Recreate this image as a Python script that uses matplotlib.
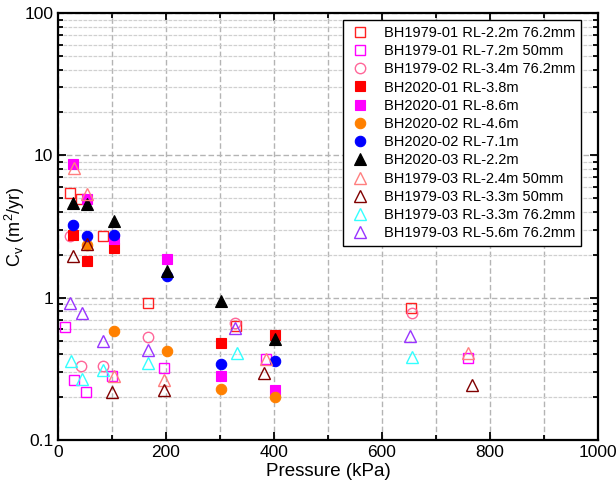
import matplotlib
matplotlib.use("Agg")
import matplotlib.pyplot as plt
from matplotlib.ticker import FixedLocator, MultipleLocator, FuncFormatter, LogLocator, NullFormatter

plt.rcParams['font.family'] = ['Liberation Sans', 'DejaVu Sans']

labels = [
    "BH1979-01 RL-2.2m 76.2mm",
    "BH1979-01 RL-7.2m 50mm",
    "BH1979-02 RL-3.4m 76.2mm",
    "BH2020-01 RL-3.8m",
    "BH2020-01 RL-8.6m",
    "BH2020-02 RL-4.6m",
    "BH2020-02 RL-7.1m",
    "BH2020-03 RL-2.2m",
    "BH1979-03 RL-2.4m 50mm",
    "BH1979-03 RL-3.3m 50mm",
    "BH1979-03 RL-3.3m 76.2mm",
    "BH1979-03 RL-5.6m 76.2mm",
]

p01_22 = [23, 42, 84, 166, 329, 653]
c01_22 = [5.4, 4.9, 2.7, 0.92, 0.63, 0.85]
p01_72 = [13, 29, 52, 100, 197, 385, 760]
c01_72 = [0.62, 0.266, 0.217, 0.283, 0.32, 0.37, 0.377]
p02_34 = [22, 43, 84, 166, 328, 655]
c02_34 = [2.73, 0.33, 0.33, 0.53, 0.66, 0.78]
p20_01a = [27, 53, 103, 302, 401]
c20_01a = [2.74, 1.80, 2.23, 0.48, 0.55]
p20_01b = [27, 53, 103, 202, 302, 401]
c20_01b = [8.7, 4.94, 2.58, 1.88, 0.28, 0.225]
p20_02a = [53, 103, 202, 302, 401]
c20_02a = [2.36, 0.586, 0.42, 0.23, 0.202]
p20_02b = [27, 53, 103, 202, 302, 401]
c20_02b = [3.26, 2.73, 2.74, 1.43, 0.34, 0.36]
p20_03 = [27, 53, 103, 202, 302, 401]
c20_03 = [4.63, 4.58, 3.44, 1.55, 0.94, 0.51]
p03_24 = [30, 53, 103, 197, 385, 760]
c03_24 = [8.15, 5.35, 0.28, 0.266, 0.37, 0.41]
p03_33a = [28, 53, 100, 197, 382, 766]
c03_33a = [1.97, 2.4, 0.217, 0.225, 0.296, 0.245]
p03_33b = [24, 44, 84, 166, 332, 655]
c03_33b = [0.36, 0.27, 0.31, 0.35, 0.41, 0.38]
p03_56 = [22, 44, 84, 166, 328, 651]
c03_56 = [0.92, 0.78, 0.50, 0.43, 0.61, 0.54]

xs = [p01_22, p01_72, p02_34, p20_01a, p20_01b, p20_02a, p20_02b, p20_03,
      p03_24, p03_33a, p03_33b, p03_56]
ys = [c01_22, c01_72, c02_34, c20_01a, c20_01b, c20_02a, c20_02b, c20_03,
      c03_24, c03_33a, c03_33b, c03_56]

markers = ['s', 's', 'o', 's', 's', 'o', 'o', '^', '^', '^', '^', '^']
colors = ['#ff2020', '#ff00ff', '#ff6699', '#ff0000', '#ff00ff', '#ff8000',
          '#0000ff', '#000000', '#ff7f7f', '#800000', '#33ffff', '#9933ff']
filled = [False, False, False, True, True, True, True, True, False, False, False, False]

fig = plt.figure(figsize=(6.16, 4.97), dpi=100)
ax = fig.add_axes([58/616, 1-440/497, (598-58)/616, (440-13)/497])

for x, y, m, c, f, lab in zip(xs, ys, markers, colors, filled, labels):
    ms = 7.5 if m != '^' else 8.5
    if f:
        ax.plot(x, y, linestyle='none', marker=m, markersize=ms,
                markerfacecolor=c, markeredgecolor=c, markeredgewidth=0.8, label=lab)
    else:
        ax.plot(x, y, linestyle='none', marker=m, markersize=ms,
                markerfacecolor='none', markeredgecolor=c, markeredgewidth=1.0, label=lab)

ax.set_yscale('log')
ax.set_xlim(0, 1000)
ax.set_ylim(0.1, 100)

ax.xaxis.set_major_locator(MultipleLocator(200))
ax.xaxis.set_minor_locator(MultipleLocator(100))
ax.yaxis.set_major_locator(FixedLocator([0.1, 1, 10, 100]))
ax.yaxis.set_minor_locator(LogLocator(base=10, subs=range(2, 10)))
ax.yaxis.set_major_formatter(FuncFormatter(lambda v, p: '%g' % v))
ax.yaxis.set_minor_formatter(NullFormatter())

ax.grid(True, which='major', axis='both', color='#b4b4b4', linestyle=(0, (4, 2)), linewidth=1.0)
ax.grid(True, which='minor', axis='x', color='#b4b4b4', linestyle=(0, (4, 2)), linewidth=1.0)
ax.grid(True, which='minor', axis='y', color='#d0d0d0', linestyle=(0, (3, 1)), linewidth=0.9)
ax.set_axisbelow(True)

ax.tick_params(which='both', direction='in', top=True, right=True, labelsize=12.5, width=1.3)
ax.tick_params(which='major', length=6)
ax.tick_params(which='minor', length=3.5)
for s in ax.spines.values():
    s.set_linewidth(1.6)

ax.set_xlabel('Pressure (kPa)', fontsize=13.5, labelpad=2)
ax.set_ylabel(r'C$_\mathregular{v}$ (m$^\mathregular{2}$/yr)', fontsize=13)
ax.yaxis.set_label_coords(-0.058, 0.5)

leg = ax.legend(loc='upper right', bbox_to_anchor=((581-58)/540, (440-20)/427),
                borderaxespad=0, fontsize=10.5,
                frameon=True, fancybox=False, edgecolor='black', framealpha=1,
                handletextpad=0.8, labelspacing=0.29, borderpad=0.4, handlelength=1.6)
leg.get_frame().set_linewidth(1.0)

fig.savefig('out.png', dpi=100)
